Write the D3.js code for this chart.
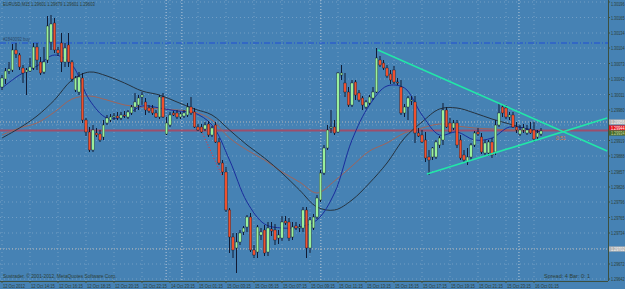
<!DOCTYPE html>
<html>
<head>
<meta charset="utf-8">
<script src="https://cdn.jsdelivr.net/npm/d3@7"></script>
<style>
  html, body { margin: 0; padding: 0; background: #4682b4; overflow: hidden; }
  text { font-family: "Liberation Sans", Arial, sans-serif; }
</style>
</head>
<body>
<div id="chart"></div>
<script>
// EURUSD M15 candles: [open, high, low, close]
const bars = [
  [1.30026,1.30050,1.30020,1.30044],[1.30042,1.30064,1.30032,1.30058],[1.30058,1.30076,1.30052,1.30062],
  [1.30060,1.30112,1.30056,1.30100],[1.30100,1.30114,1.30084,1.30092],[1.30090,1.30094,1.30060,1.30066],
  [1.30064,1.30070,1.30034,1.30054],[1.30056,1.30064,1.30010,1.30060],[1.30058,1.30084,1.30056,1.30066],
  [1.30064,1.30114,1.30060,1.30106],[1.30106,1.30114,1.30060,1.30080],[1.30076,1.30086,1.30050,1.30054],
  [1.30056,1.30106,1.30052,1.30076],[1.30080,1.30168,1.30074,1.30148],[1.30116,1.30170,1.30100,1.30152],
  [1.30154,1.30164,1.30094,1.30100],[1.30100,1.30106,1.30088,1.30094],[1.30114,1.30134,1.30056,1.30076],
  [1.30076,1.30114,1.30066,1.30104],[1.30110,1.30134,1.30066,1.30076],[1.30076,1.30080,1.30036,1.30042],
  [1.30020,1.30048,1.30016,1.30044],[1.30016,1.30056,1.30010,1.30046],[1.30044,1.30054,1.29954,1.29960],
  [1.29960,1.29964,1.29928,1.29936],[1.29936,1.29946,1.29896,1.29900],[1.29900,1.29950,1.29896,1.29940],
  [1.29934,1.29944,1.29926,1.29930],[1.29932,1.29940,1.29916,1.29920],[1.29926,1.29960,1.29920,1.29950],
  [1.29954,1.29970,1.29950,1.29964],[1.29960,1.29972,1.29956,1.29966],[1.29966,1.29974,1.29960,1.29968],
  [1.29968,1.29976,1.29960,1.29964],[1.29964,1.29976,1.29960,1.29970],[1.29970,1.29978,1.29964,1.29968],
  [1.29966,1.29980,1.29962,1.29976],[1.29974,1.29990,1.29970,1.29986],[1.29986,1.30014,1.29976,1.29996],
  [1.29990,1.30010,1.29980,1.30004],[1.30006,1.30016,1.29990,1.30010],[1.29996,1.30004,1.29970,1.29980],
  [1.29984,1.29990,1.29974,1.29978],[1.29984,1.29990,1.29970,1.29974],[1.29974,1.29980,1.29964,1.29966],
  [1.29966,1.30010,1.29962,1.30006],[1.30006,1.30014,1.29964,1.29966],[1.29932,1.29966,1.29930,1.29954],
  [1.29950,1.29976,1.29946,1.29970],[1.29974,1.29978,1.29968,1.29970],[1.29974,1.29980,1.29962,1.29966],
  [1.29966,1.29976,1.29962,1.29972],[1.29968,1.29980,1.29964,1.29974],[1.29970,1.29994,1.29966,1.29986],
  [1.29986,1.30006,1.29970,1.29974],[1.29976,1.29984,1.29944,1.29946],[1.29946,1.29952,1.29938,1.29940],
  [1.29946,1.29952,1.29934,1.29936],[1.29942,1.29956,1.29938,1.29950],[1.29952,1.29958,1.29926,1.29930],
  [1.29930,1.29948,1.29926,1.29944],[1.29950,1.29956,1.29914,1.29916],[1.29916,1.29924,1.29870,1.29874],
  [1.29874,1.29880,1.29850,1.29856],[1.29856,1.29866,1.29776,1.29780],[1.29780,1.29784,1.29694,1.29726],
  [1.29726,1.29734,1.29684,1.29700],[1.29704,1.29734,1.29654,1.29716],[1.29716,1.29740,1.29710,1.29734],
  [1.29736,1.29748,1.29730,1.29744],[1.29746,1.29770,1.29736,1.29766],[1.29766,1.29774,1.29696,1.29700],
  [1.29700,1.29710,1.29684,1.29690],[1.29696,1.29750,1.29684,1.29746],[1.29730,1.29744,1.29720,1.29736],
  [1.29740,1.29750,1.29688,1.29694],[1.29696,1.29756,1.29688,1.29744],[1.29742,1.29756,1.29728,1.29738],
  [1.29740,1.29752,1.29710,1.29720],[1.29724,1.29740,1.29712,1.29730],[1.29724,1.29768,1.29718,1.29756],
  [1.29758,1.29768,1.29750,1.29754],[1.29756,1.29764,1.29718,1.29724],[1.29726,1.29756,1.29720,1.29746],
  [1.29748,1.29756,1.29740,1.29744],[1.29744,1.29752,1.29736,1.29746],[1.29744,1.29786,1.29736,1.29780],
  [1.29780,1.29786,1.29684,1.29704],[1.29704,1.29766,1.29694,1.29760],[1.29744,1.29772,1.29740,1.29766],
  [1.29766,1.29810,1.29762,1.29804],[1.29800,1.29860,1.29796,1.29854],[1.29854,1.29910,1.29850,1.29904],
  [1.29904,1.29950,1.29900,1.29940],[1.29944,1.29980,1.29934,1.29946],[1.29946,1.29960,1.29930,1.29934],
  [1.29936,1.30056,1.29934,1.30054],[1.30050,1.30070,1.30040,1.30054],[1.30034,1.30054,1.30006,1.30016],
  [1.30016,1.30026,1.29986,1.29990],[1.29990,1.30040,1.29986,1.30034],[1.30036,1.30040,1.30000,1.30010],
  [1.30014,1.30020,1.29996,1.30000],[1.30004,1.30008,1.29980,1.29990],[1.29986,1.30000,1.29982,1.29996],
  [1.29994,1.30010,1.29990,1.30006],[1.30004,1.30026,1.30000,1.30016],[1.30016,1.30104,1.30014,1.30084],
  [1.30080,1.30088,1.30066,1.30070],[1.30074,1.30080,1.30060,1.30064],[1.30064,1.30070,1.30044,1.30048],
  [1.30052,1.30060,1.30032,1.30040],[1.30060,1.30068,1.30032,1.30036],[1.30036,1.30044,1.30030,1.30034],
  [1.30026,1.30040,1.29970,1.29974],[1.29974,1.29992,1.29966,1.29986],[1.29986,1.30008,1.29960,1.30004],
  [1.29998,1.30008,1.29990,1.30000],[1.29996,1.30008,1.29914,1.29934],[1.29934,1.29944,1.29926,1.29928],
  [1.29930,1.29940,1.29914,1.29916],[1.29920,1.29936,1.29876,1.29884],[1.29886,1.29900,1.29850,1.29880],
  [1.29886,1.29906,1.29880,1.29904],[1.29886,1.29920,1.29882,1.29916],[1.29910,1.29928,1.29904,1.29924],
  [1.29920,1.29994,1.29910,1.29980],[1.29980,1.29986,1.29944,1.29946],[1.29954,1.29964,1.29934,1.29936],
  [1.29944,1.29960,1.29940,1.29954],[1.29954,1.29960,1.29904,1.29910],[1.29920,1.29930,1.29880,1.29884],
  [1.29890,1.29900,1.29876,1.29880],[1.29876,1.29904,1.29870,1.29886],[1.29886,1.29914,1.29880,1.29910],
  [1.29910,1.29938,1.29906,1.29934],[1.29936,1.29944,1.29928,1.29932],[1.29926,1.29934,1.29892,1.29896],
  [1.29894,1.29920,1.29888,1.29914],[1.29894,1.29920,1.29888,1.29916],[1.29916,1.29924,1.29884,1.29890],
  [1.29896,1.29960,1.29890,1.29950],[1.29950,1.29994,1.29946,1.29974],[1.29986,1.29990,1.29966,1.29974],
  [1.29984,1.29990,1.29962,1.29966],[1.29966,1.29976,1.29960,1.29970],[1.29970,1.29976,1.29944,1.29946],
  [1.29946,1.29956,1.29934,1.29940],[1.29932,1.29950,1.29928,1.29940],[1.29940,1.29952,1.29934,1.29944],
  [1.29934,1.29950,1.29930,1.29940],[1.29942,1.29956,1.29932,1.29934],[1.29940,1.29956,1.29916,1.29922],
  [1.29926,1.29940,1.29920,1.29934],[1.29932,1.29944,1.29928,1.29938]
];

// moving averages read at every 5th bar (last point = last bar)
const maBars = [0,5,10,15,20,25,30,35,40,45,50,55,60,65,70,75,80,85,90,95,100,105,110,115,120,125,130,135,140,145,150,154];
const maFast = [1.30024,1.30050,1.30068,1.30090,1.30070,1.30000,1.29964,1.29968,1.29988,1.29984,1.29978,1.29974,
  1.29950,1.29880,1.29796,1.29752,1.29744,1.29746,1.29760,1.29814,1.29920,1.29990,1.30028,1.30024,1.29970,1.29930,
  1.29936,1.29920,1.29924,1.29946,1.29942,1.29936];
const maMid = [1.29924,1.29944,1.29968,1.30000,1.30040,1.30056,1.30048,1.30034,1.30018,1.30010,1.29996,1.29982,
  1.29970,1.29940,1.29910,1.29884,1.29854,1.29820,1.29786,1.29780,1.29800,1.29834,1.29874,1.29924,1.29956,1.29982,
  1.29984,1.29974,1.29962,1.29952,1.29942,1.29936];
const maSlow = [1.29930,1.29944,1.29954,1.29976,1.30002,1.30008,1.30000,1.29990,1.29986,1.29982,1.29980,1.29976,
  1.29960,1.29924,1.29900,1.29880,1.29856,1.29836,1.29814,1.29838,1.29868,1.29898,1.29914,1.29934,1.29944,1.29952,
  1.29948,1.29944,1.29942,1.29940,1.29938,1.29936];

// price axis labels
const priceTicks = ["1.30196","1.30165","1.30134","1.30104","1.30073","1.30042","1.30011","1.29980","1.29950",
  "1.29919","1.29888","1.29857","1.29826","1.29796","1.29765","1.29734","1.29703","1.29672","1.29642"];
// time axis labels, one every 8 bars
const timeTicks = ["12 Oct 2012","12 Oct 14:15","12 Oct 16:15","12 Oct 18:15","12 Oct 20:15","12 Oct 22:15",
  "14 Oct 23:15","15 Oct 01:15","15 Oct 03:15","15 Oct 05:15","15 Oct 07:15","15 Oct 09:15","15 Oct 11:15",
  "15 Oct 13:15","15 Oct 15:15","15 Oct 17:15","15 Oct 19:15","15 Oct 21:15","15 Oct 23:15","16 Oct 01:15"];

// period separators (bar positions)
const separators = [46.9, 51.4, 91.1, 147.7];
// trend lines: [[bar, price], [bar, price]]
const trendUpper = [[107.4, 1.30100], [172.9, 1.29898]];
const trendLower = [[121.4, 1.29852], [172.9, 1.29964]];
// order / levels
const orderLevel = 1.30114;
const levelGrey1 = 1.29956;
const levelAsk = 1.29944;
const levelBid = 1.29934;
const levelLine = 1.29939;
const levelGrey2 = 1.29702;
const tradeLine = [[56.6, 1.29944], [62.9, 1.29848]];

const W = 625, H = 289;
const plotR = 608, plotB = 281;
const ink = '#2e3f34';

const svg = d3.select('#chart').append('svg')
  .attr('width', W).attr('height', H)
  .style('display', 'block');

svg.append('rect').attr('width', W).attr('height', H).attr('fill', '#4682b4');

const x = d3.scaleLinear().domain([0, 174]).range([2, 2 + 3.5 * 174]);
const y = d3.scaleLinear().domain([1.30200, 1.30200 - 0.00002 * H]).range([0, H]);

// small text, squeezed horizontally to the width it takes in the terminal
const label = (parent, px, py, str, len, color, size) => {
  const t = parent.append('text')
    .attr('font-size', size || 5.5).attr('fill', color || ink)
    .text(str);
  const nat = t.node().getComputedTextLength() || len;
  const s = Math.min(1, len / nat);
  t.attr('transform', `translate(${px},${py}) scale(${s},1)`);
  return t;
};

const plot = svg.append('g');
plot.append('clipPath').attr('id', 'clip')
  .append('rect').attr('x', 0).attr('y', 0).attr('width', plotR).attr('height', plotB);
const g = plot.append('g').attr('clip-path', 'url(#clip)');

// dotted grid
priceTicks.forEach(t => {
  g.append('line').attr('x1', 0).attr('x2', plotR).attr('y1', y(+t)).attr('y2', y(+t))
    .attr('stroke', '#a9c2da').attr('stroke-opacity', 0.45).attr('stroke-dasharray', '1,3');
});
timeTicks.forEach((t, k) => {
  g.append('line').attr('x1', x(k * 8)).attr('x2', x(k * 8)).attr('y1', 0).attr('y2', plotB)
    .attr('stroke', '#a9c2da').attr('stroke-opacity', 0.45).attr('stroke-dasharray', '1,3');
});

// period separators
separators.forEach(b => {
  g.append('line').attr('x1', x(b)).attr('x2', x(b)).attr('y1', 0).attr('y2', plotB)
    .attr('stroke', '#b8c8d8').attr('stroke-dasharray', '1,2');
});

// horizontal levels
const hline = (p, color, dash, width) => g.append('line')
  .attr('x1', 0).attr('x2', plotR).attr('y1', y(p)).attr('y2', y(p))
  .attr('stroke', color).attr('stroke-width', width || 1).attr('stroke-dasharray', dash || null);
hline(orderLevel, '#1f4fd6', '6,2,1,2');
hline(levelGrey1, '#b8b8b8', '1,2');
hline(levelLine, '#9c4e6c', null, 2);
hline(levelGrey2, '#b8b8b8', '1,2');

label(g, 3, y(orderLevel) - 2, '#2840092 buy', 27, '#2d4a6a', 5);

// moving averages
const maLine = d3.line().x((d, i) => x(maBars[i])).y(d => y(d)).curve(d3.curveCatmullRom);
g.append('path').attr('d', maLine(maSlow)).attr('fill', 'none').attr('stroke', '#a0645a').attr('stroke-width', 1);
g.append('path').attr('d', maLine(maMid)).attr('fill', 'none').attr('stroke', '#26323e').attr('stroke-width', 1);
g.append('path').attr('d', maLine(maFast)).attr('fill', 'none').attr('stroke', '#1a2c9c').attr('stroke-width', 1);

// trade history line
g.append('line')
  .attr('x1', x(tradeLine[0][0])).attr('y1', y(tradeLine[0][1]))
  .attr('x2', x(tradeLine[1][0])).attr('y2', y(tradeLine[1][1]))
  .attr('stroke', '#ff2a2a').attr('stroke-dasharray', '1,2');

// candles
const cg = g.append('g');
cg.selectAll('line.wick').data(bars).join('line')
  .attr('class', 'wick')
  .attr('x1', (d, i) => x(i)).attr('x2', (d, i) => x(i))
  .attr('y1', d => y(d[1])).attr('y2', d => y(d[2]))
  .attr('stroke', '#111a33').attr('stroke-width', 1);
cg.selectAll('rect.body').data(bars).join('rect')
  .attr('class', 'body')
  .attr('x', (d, i) => x(i) - 1.3)
  .attr('width', 2.6)
  .attr('y', d => y(Math.max(d[0], d[3])))
  .attr('height', d => Math.max(1, Math.abs(y(d[0]) - y(d[3]))))
  .attr('fill', d => d[3] >= d[0] ? '#9af09a' : '#f0502c')
  .attr('stroke', '#1c2436').attr('stroke-width', 0.4);

// trend lines
[trendUpper, trendLower].forEach(t => {
  g.append('line')
    .attr('x1', x(t[0][0])).attr('y1', y(t[0][1]))
    .attr('x2', x(t[1][0])).attr('y2', y(t[1][1]))
    .attr('stroke', '#22e6a8').attr('stroke-width', 1.6);
});

// timer text
label(g, 556, 140, '0:51', 10, '#e0783a', 5.5);

// axes frame
svg.append('line').attr('x1', plotR + 0.5).attr('x2', plotR + 0.5).attr('y1', 0).attr('y2', plotB)
  .attr('stroke', '#3c5040');
svg.append('line').attr('x1', 0).attr('x2', plotR).attr('y1', plotB + 0.5).attr('y2', plotB + 0.5)
  .attr('stroke', '#3c5040');

// price labels (skip the ones hidden under level tags)
const tagged = [levelGrey1, levelAsk, levelBid, levelGrey2];
priceTicks.forEach(t => {
  svg.append('line').attr('x1', plotR).attr('x2', plotR + 2).attr('y1', y(+t)).attr('y2', y(+t)).attr('stroke', '#3c5040');
  if (tagged.some(p => Math.abs(y(p) - y(+t)) < 6)) return;
  label(svg, plotR + 3, Math.max(y(+t) + 2, 5.5), t, 13.5);
});

// highlighted level labels
const tag = (p, bg, fg) => {
  svg.append('rect').attr('x', plotR + 1).attr('y', y(p) - 2.6).attr('width', W - plotR - 1).attr('height', 5.2).attr('fill', bg);
  label(svg, plotR + 3, y(p) + 1.8, p.toFixed(5), 13.5, fg, 5);
};
tag(levelGrey1, '#b4b4b4', '#f4f4f4');
tag(levelAsk, '#e8141c', '#ffffff');
tag(levelBid, '#4a6a2a', '#c8d8a0');
tag(levelGrey2, '#b4b4b4', '#f4f4f4');

// time labels
timeTicks.forEach((t, k) => {
  svg.append('line').attr('x1', x(k * 8)).attr('x2', x(k * 8)).attr('y1', plotB).attr('y2', plotB + 2).attr('stroke', '#3c5040');
  label(svg, x(k * 8) + 1, 287.5, t, k === 0 ? 22 : 24);
});

// header and footer texts
label(svg, 3, 6, 'EURUSD,M15  1.29601 1.29679 1.29601 1.29603', 92);
label(svg, 3, 278, 'Sustrader, © 2001-2012, MetaQuotes Software Corp.', 114);
label(svg, 544, 278, 'Spread: 4    Bar: 0: 1', 57);
</script>
</body>
</html>
